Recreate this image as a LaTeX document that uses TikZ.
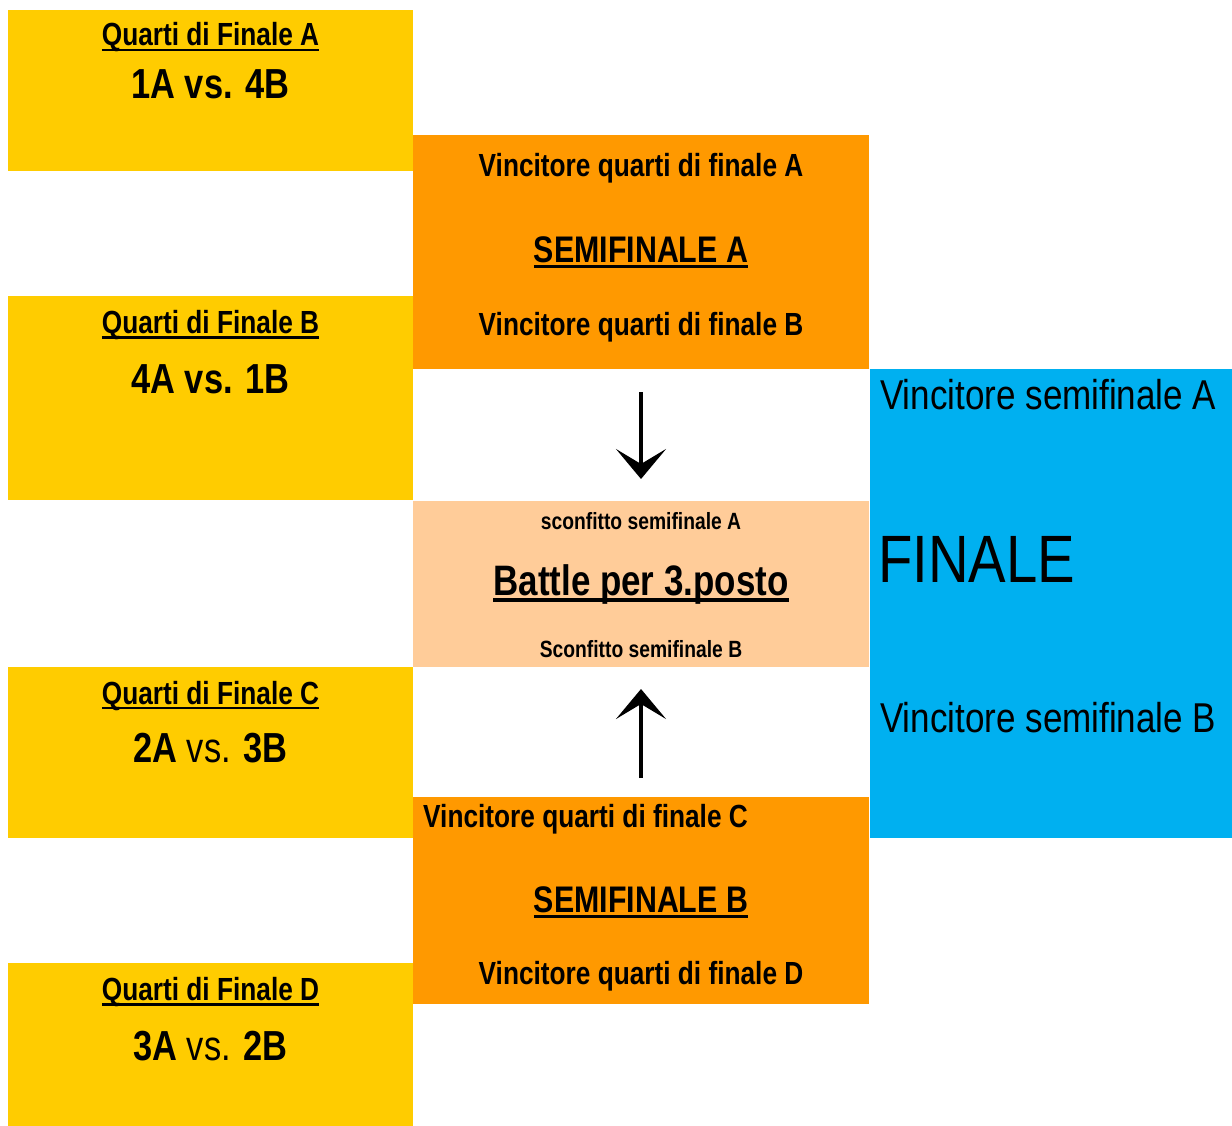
\documentclass[tikz,border=0pt]{standalone}
\usepackage{fontspec}
\setmainfont{Liberation Sans}
\newfontfamily\narrowfont[FakeStretch=0.82]{Liberation Sans}
\newfontfamily\slimfont[FakeStretch=0.84]{Liberation Sans}
\usetikzlibrary{arrows.meta}
\definecolor{quarti}{HTML}{FFCC00}
\definecolor{semi}{HTML}{FF9900}
\definecolor{terzo}{HTML}{FFCC99}
\definecolor{finale}{HTML}{00B0F0}
\newcommand{\sott}[1]{\setbox0\hbox{#1}\rlap{\rule[-0.17em]{\wd0}{0.09em}}\box0}
\newcommand{\sz}[1]{\fontsize{#1}{#1}\selectfont}
\tikzset{
  box/.style={inner sep=0pt, outer sep=0pt},
  qbox/.style={box, fill=quarti, minimum width=405pt},
  sbox/.style={box, fill=semi, minimum width=456pt},
  tbox/.style={box, fill=terzo, minimum width=456pt},
  fbox/.style={box, fill=finale, minimum width=362pt},
  txt/.style={anchor=base, inner sep=0pt, font=\narrowfont\bfseries},
  ftxt/.style={anchor=base west, inner sep=0pt, font=\slimfont},
  ptr/.style={-{Stealth[length=30pt,width=50pt,inset=15pt]}, line width=4.5pt, shorten >=22pt}
}

\begin{document}
\begin{tikzpicture}[x=1pt, y=-1pt]
	\useasboundingbox (0,0) rectangle (1232,1126);
	% quarti di finale
	\node[qbox, minimum height=161pt] (qfa) at (210.5,90.5) {};
	\node[qbox, minimum height=204pt] (qfb) at (210.5,398) {};
	\node[qbox, minimum height=171pt] (qfc) at (210.5,752.5) {};
	\node[qbox, minimum height=163pt] (qfd) at (210.5,1044.5) {};
	\node[txt] (qfa-t) at (210.5,46) {\sz{32}\sott{Quarti di Finale A}};
	\node[txt] (qfa-m) at (210.5,99) {\sz{42}1A vs. 4B};
	\node[txt] (qfb-t) at (210.5,333.5) {\sz{32}\sott{Quarti di Finale B}};
	\node[txt] (qfb-m) at (210.5,393) {\sz{42}4A vs. 1B};
	\node[txt] (qfc-t) at (210.5,704) {\sz{32}\sott{Quarti di Finale C}};
	\node[txt] (qfc-m) at (210.5,762) {\sz{42}2A {\mdseries vs.} 3B};
	\node[txt] (qfd-t) at (210.5,1000.5) {\sz{32}\sott{Quarti di Finale D}};
	\node[txt] (qfd-m) at (210.5,1060) {\sz{42}3A {\mdseries vs.} 2B};
	% semifinali
	\node[sbox, minimum height=234pt] (sfa) at (641,252) {};
	\node[sbox, minimum height=207pt] (sfb) at (641,900.5) {};
	\node[txt] (sfa-a) at (641,177) {\sz{32}Vincitore quarti di finale A};
	\node[txt] (sfa-t) at (641,262) {\sz{37}\sott{SEMIFINALE A}};
	\node[txt] (sfa-b) at (641,335) {\sz{32}Vincitore quarti di finale B};
	\node[txt, anchor=base west] (sfb-c) at (423,827) {\sz{32}Vincitore quarti di finale C};
	\node[txt] (sfb-t) at (641,912) {\sz{37}\sott{SEMIFINALE B}};
	\node[txt] (sfb-d) at (641,984) {\sz{32}Vincitore quarti di finale D};
	% terzo posto
	\node[tbox, minimum height=166pt] (bron) at (641,584) {};
	\node[txt] (bron-a) at (641,529) {\sz{23.5}sconfitto semifinale A};
	\node[txt] (bron-t) at (641,595) {\sz{42.6}\sott{Battle per 3.posto}};
	\node[txt] (bron-b) at (641,657) {\sz{23.5}Sconfitto semifinale B};
	% finale
	\node[fbox, minimum height=469pt] (fin) at (1051,603.5) {};
	\node[ftxt] (fin-a) at (880,409) {\sz{41.7}Vincitore semifinale A};
	\node[ftxt] (fin-t) at (878,582) {\sz{67}FINALE};
	\node[ftxt] (fin-b) at (880,732) {\sz{41.7}Vincitore semifinale B};
	% frecce verso il terzo posto
	\draw[ptr, shorten <=23pt] (sfa.south) -- (bron.north);
	\draw[ptr, shorten <=19pt] (sfb.north) -- (bron.south);
\end{tikzpicture}
\end{document}
